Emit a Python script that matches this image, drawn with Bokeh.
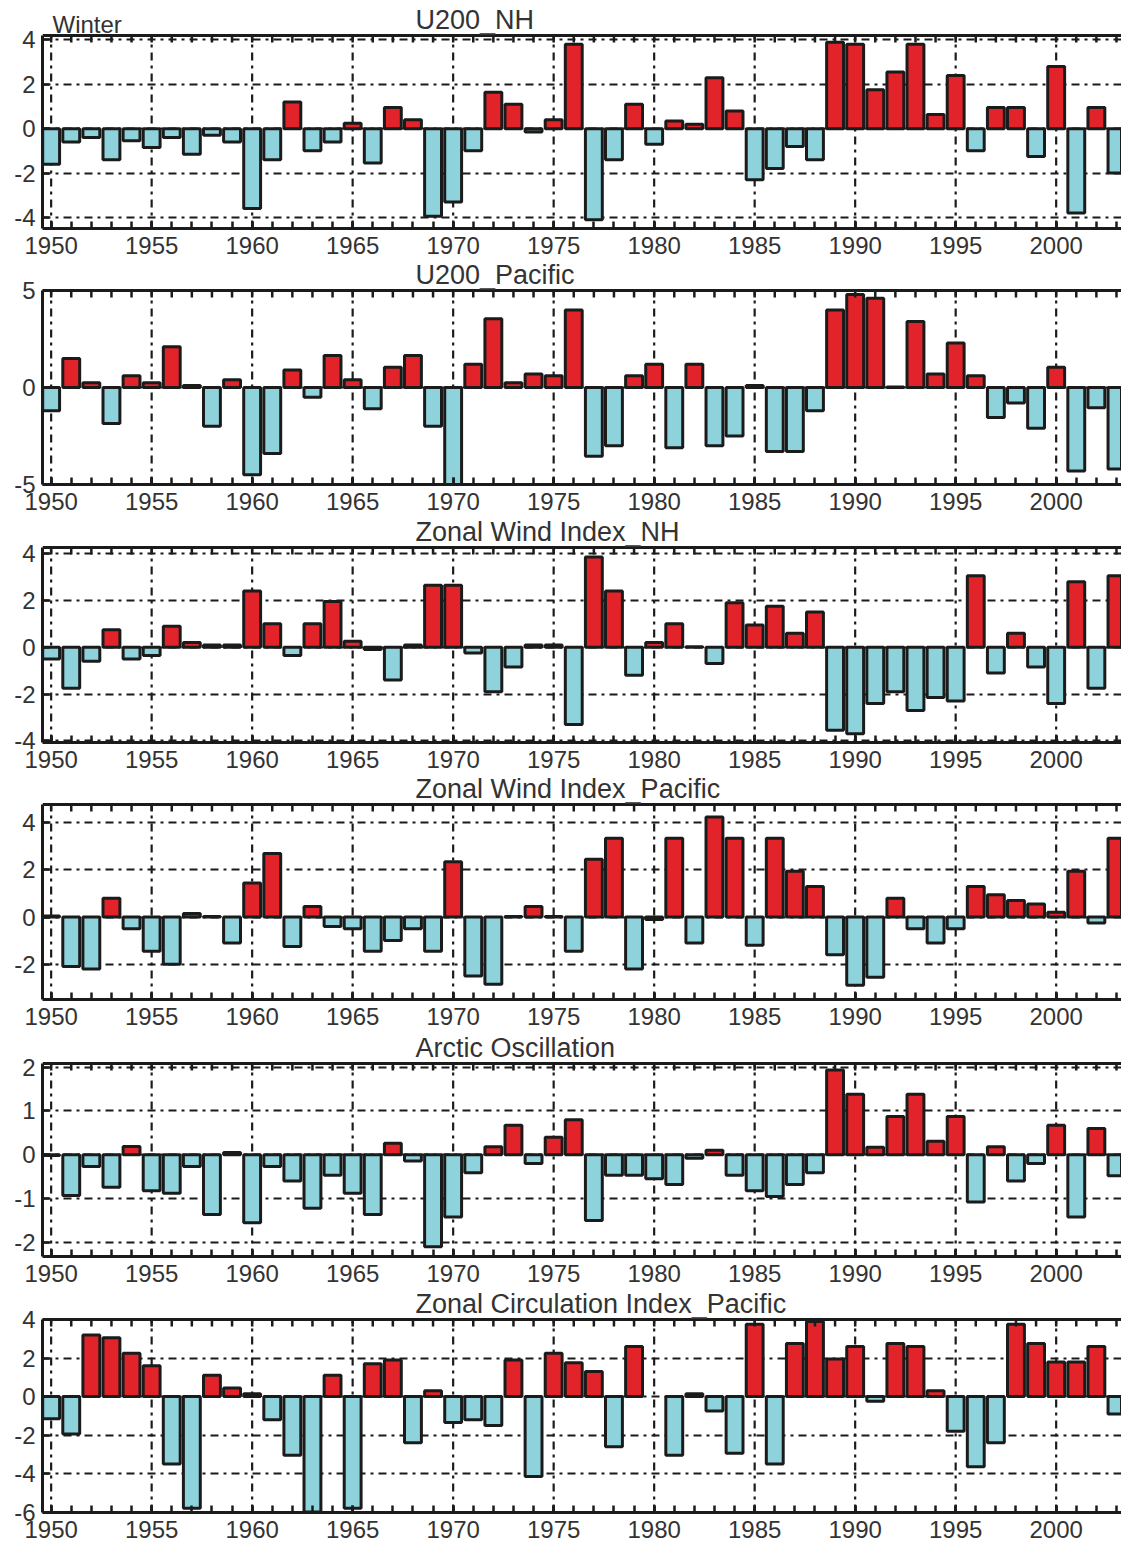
from bokeh.plotting import figure
from bokeh.models import FixedTicker, Range1d, Label, ColumnDataSource, Span
from bokeh.layouts import column
from bokeh.embed import file_html
from bokeh.resources import INLINE

years = list(range(1950, 2004))

u200_nh = [-1.6, -0.6, -0.4, -1.4, -0.55, -0.85, -0.4, -1.15, -0.3, -0.6,
           -3.6, -1.4, 1.2, -1.0, -0.6, 0.25, -1.55, 0.95, 0.4, -3.95,
           -3.3, -1.0, 1.64, 1.1, -0.15, 0.4, 3.8, -4.1, -1.4, 1.1,
           -0.7, 0.35, 0.2, 2.3, 0.8, -2.3, -1.8, -0.8, -1.4, 3.9,
           3.8, 1.75, 2.55, 3.8, 0.64, 2.4, -1.0, 0.95, 0.95, -1.25,
           2.8, -3.8, 0.95, -2.0]

u200_pacific = [-1.2, 1.5, 0.25, -1.85, 0.6, 0.25, 2.1, 0.1, -2.0, 0.4,
                -4.5, -3.4, 0.9, -0.5, 1.65, 0.4, -1.1, 1.05, 1.65, -2.0,
                -5.0, 1.2, 3.55, 0.25, 0.7, 0.6, 4.0, -3.55, -3.0, 0.6,
                1.2, -3.1, 1.2, -3.0, -2.5, 0.1, -3.3, -3.3, -1.2, 4.0,
                4.8, 4.6, 0.02, 3.4, 0.7, 2.3, 0.6, -1.55, -0.8, -2.1,
                1.05, -4.3, -1.05, -4.2]

zonal_wind_nh = [-0.5, -1.75, -0.6, 0.75, -0.5, -0.35, 0.9, 0.2, 0.1, 0.1,
                 2.4, 1.0, -0.35, 1.0, 1.95, 0.25, -0.1, -1.4, 0.1, 2.65,
                 2.65, -0.25, -1.9, -0.85, 0.1, 0.1, -3.3, 3.85, 2.4, -1.2,
                 0.2, 1.0, 0.02, -0.7, 1.9, 0.95, 1.75, 0.6, 1.5, -3.55,
                 -3.7, -2.4, -1.9, -2.7, -2.15, -2.3, 3.05, -1.1, 0.6, -0.85,
                 -2.4, 2.8, -1.75, 3.05]

zonal_wind_pacific = [0.05, -2.1, -2.2, 0.8, -0.5, -1.45, -2.0, 0.15, 0.02, -1.1,
                      1.45, 2.7, -1.25, 0.45, -0.4, -0.5, -1.45, -1.0, -0.5, -1.45,
                      2.35, -2.5, -2.85, 0.02, 0.45, 0.02, -1.45, 2.45, 3.35, -2.2,
                      -0.1, 3.35, -1.1, 4.25, 3.35, -1.2, 3.35, 1.95, 1.3, -1.6,
                      -2.9, -2.55, 0.8, -0.5, -1.1, -0.5, 1.3, 0.95, 0.7, 0.55,
                      0.2, 1.95, -0.25, 3.35]

arctic_oscillation = [-0.02, -0.93, -0.27, -0.74, 0.19, -0.82, -0.88, -0.27, -1.36, 0.05,
                      -1.55, -0.27, -0.6, -1.22, -0.47, -0.88, -1.36, 0.26, -0.14, -2.1,
                      -1.42, -0.41, 0.18, 0.67, -0.2, 0.4, 0.8, -1.5, -0.47, -0.47,
                      -0.55, -0.68, -0.08, 0.1, -0.47, -0.82, -0.95, -0.68, -0.41, 1.93,
                      1.38, 0.17, 0.87, 1.38, 0.31, 0.87, -1.08, 0.18, -0.6, -0.2,
                      0.67, -1.42, 0.6, -0.48]

zonal_circ_pacific = [-1.15, -1.95, 3.2, 3.05, 2.25, 1.6, -3.5, -5.8, 1.1, 0.45,
                      0.15, -1.2, -3.05, -6.0, 1.1, -5.8, 1.7, 1.9, -2.4, 0.3,
                      -1.35, -1.2, -1.5, 1.9, -4.15, 2.25, 1.75, 1.3, -2.6, 2.6,
                      float("nan"), -3.05, 0.15, -0.75, -2.95, 3.75, -3.5, 2.75, 3.9, 1.95,
                      2.6, -0.25, 2.75, 2.6, 0.3, -1.8, -3.65, -2.4, 3.75, 2.75,
                      1.8, 1.8, 2.6, -0.9]

titles = ["U200_NH", "U200_Pacific", "Zonal Wind Index_NH",
          "Zonal Wind Index_Pacific", "Arctic Oscillation",
          "Zonal Circulation Index_Pacific"]
series = [u200_nh, u200_pacific, zonal_wind_nh, zonal_wind_pacific,
          arctic_oscillation, zonal_circ_pacific]
y_limits = [(-4.5, 4.2), (-5.0, 5.0), (-4.07, 4.26), (-3.5, 4.78),
            (-2.32, 2.08), (-6.02, 4.0)]
y_ticks = [[-4, -2, 0, 2, 4], [-5, 0, 5], [-4, -2, 0, 2, 4], [-2, 0, 2, 4],
           [-2, -1, 0, 1, 2], [-6, -4, -2, 0, 2, 4]]
major_years = list(range(1950, 2005, 5))
minor_years = list(range(1949, 2005))
season = "Winter"

# layout (pixels, relative to each panel's top)
fig_h = [260, 257, 257, 258, 257, 254]
data_top_px = [35, 30, 30, 30, 31, 30]
data_bot_px = [228, 224, 225, 225, 224, 223]
W = 1121
LEFT = 42
X0, X1 = 1949.57, 2003.25
px_per_year = (W - LEFT) / (X1 - X0)
TITLE_PX = 415
WINTER_PX = 52
TICK_PX = 7

FONT = "Liberation Sans"
TXT = "#333333"
RED = "#E2232A"
CYAN = "#8ED3DB"
EDGE = "#1b1b1b"
DASH = "8 5 3 5"

figs = []
for i in range(6):
    vals = series[i]
    y0, y1 = y_limits[i]
    T, B, H = data_top_px[i], data_bot_px[i], fig_h[i]
    ppu = (B - T) / (y1 - y0)
    y_end = y1 + T / ppu

    p = figure(width=W, height=H, output_backend="svg",
               toolbar_location=None, tools="",
               x_range=Range1d(X0, X1), y_range=Range1d(y0, y_end),
               min_border_left=LEFT, min_border_right=0,
               min_border_top=0, min_border_bottom=H - B)
    p.outline_line_color = None
    p.background_fill_color = "white"
    p.border_fill_color = "white"

    # vertical dash-dot grid lines within the data box
    p.xgrid.visible = False
    p.segment(x0=major_years, x1=major_years, y0=[y0] * len(major_years),
              y1=[y1] * len(major_years), line_color=EDGE, line_width=2.2,
              line_dash=DASH)
    ytk = FixedTicker(ticks=y_ticks[i])
    g = p.ygrid[0]
    g.ticker = ytk
    g.grid_line_color = EDGE
    g.grid_line_width = 2.2
    g.grid_line_dash = DASH

    colors = [RED if v > 0 else CYAN for v in vals]
    src = ColumnDataSource(dict(x=years, top=vals, color=colors))
    p.vbar(x="x", top="top", bottom=0, width=0.84, fill_color="color",
           line_color=EDGE, line_width=3, source=src)

    # top border with inward ticks
    p.add_layout(Span(location=y1, dimension="width", line_color=EDGE, line_width=3))
    tl = TICK_PX / ppu
    p.segment(x0=minor_years, x1=minor_years, y0=[y1] * len(minor_years),
              y1=[y1 - tl] * len(minor_years), line_color=EDGE, line_width=2.5)

    xt = FixedTicker(ticks=major_years, minor_ticks=minor_years)
    xa = p.xaxis[0]
    xa.ticker = xt
    ya = p.yaxis[0]
    ya.ticker = ytk
    ya.bounds = (y0, y1)
    ya.major_label_overrides = {t: str(t) for t in y_ticks[i]}
    for ax in (xa, ya):
        ax.axis_line_color = EDGE
        ax.axis_line_width = 3
        ax.major_tick_in = TICK_PX
        ax.major_tick_out = 0
        ax.minor_tick_in = TICK_PX
        ax.minor_tick_out = 0
        ax.major_tick_line_color = EDGE
        ax.minor_tick_line_color = EDGE
        ax.major_tick_line_width = 2.5
        ax.minor_tick_line_width = 2.5
        ax.major_label_text_font = FONT
        ax.major_label_text_font_size = "24px"
        ax.major_label_text_color = TXT
    ya.minor_tick_line_color = None
    ya.major_label_standoff = 7
    xa.major_label_standoff = 8

    p.add_layout(Label(x=X0 + (TITLE_PX - LEFT) / px_per_year, y=y1 + 1 / ppu,
                       text=titles[i], text_font=FONT,
                       text_font_size="27px", text_color=TXT,
                       text_baseline="bottom", text_align="left"))
    if i == 0:
        p.add_layout(Label(x=X0 + (WINTER_PX - LEFT) / px_per_year, y=y1 - 2 / ppu,
                           text=season, text_font=FONT,
                           text_font_size="24px", text_color=TXT,
                           text_baseline="bottom", text_align="left"))
    figs.append(p)

layout = column(*figs, spacing=0)
open("out.html", "w").write(file_html(layout, INLINE))
